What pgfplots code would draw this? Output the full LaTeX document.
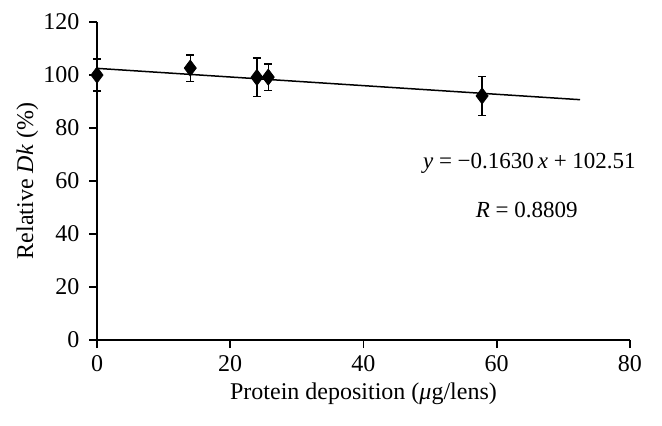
\documentclass[border=0pt]{standalone}
\usepackage{pgfplots}
\pgfplotsset{compat=1.18}
\usepackage{fontspec}
\setmainfont{Liberation Serif}

\begin{document}
\fontsize{11}{13}\selectfont
\begin{tikzpicture}
    \path[use as bounding box] (-48.5pt,-42.5pt) rectangle (282.5pt,170pt);
    \begin{axis}[
        at={(0,0)}, anchor=south west,
        scale only axis,
        width=266.5pt, height=159pt,
        xmin=0, xmax=80, ymin=0, ymax=120,
        xtick={0,20,40,60,80},
        ytick={0,20,40,60,80,100,120},
        axis x line*=bottom,
        axis y line*=left,
        axis line style={line width=0.8pt, black},
        tick style={line width=0.8pt, black},
        tick align=outside,
        major tick length=4pt,
        clip=false,
        /pgf/number format/assume math mode=true,
        tick label style={font=\fontsize{12}{14}\selectfont},
        yticklabel style={xshift=-1pt},
        xlabel={Protein deposition (\textit{μ}g/lens)},
        ylabel={Relative \textit{Dk} (\%)},
        label style={font=\fontsize{12}{14}\selectfont},
        xlabel style={yshift=2pt},
        ylabel style={yshift=-5pt},
    ]
    \addplot[black, line width=0.75pt] coordinates {(0,102.51) (72.5,90.69)};
    \addplot[only marks, mark=diamond*, mark size=4pt, black,
        mark options={fill=black},
        error bars/.cd, y dir=both, y explicit,
        error bar style={line width=0.7pt, black},
        error mark options={rotate=90, mark size=2pt, line width=0.7pt, black}]
        coordinates {
            (0,100) +- (0,6)
            (14,102.6) +- (0,5)
            (24,99.1) +- (0,7.3)
            (25.7,99.2) +- (0,5)
            (57.8,92.1) +- (0,7.3)
        };
    \node[anchor=center] at (axis cs:64.9,66.8) {\fontsize{11.5}{13}\selectfont\textit{y} = −0.1630\,\textit{x} + 102.51};
    \node[anchor=center] at (axis cs:64.5,49) {\fontsize{11.5}{13}\selectfont\textit{R} = 0.8809};
    \end{axis}
\end{tikzpicture}
\end{document}
